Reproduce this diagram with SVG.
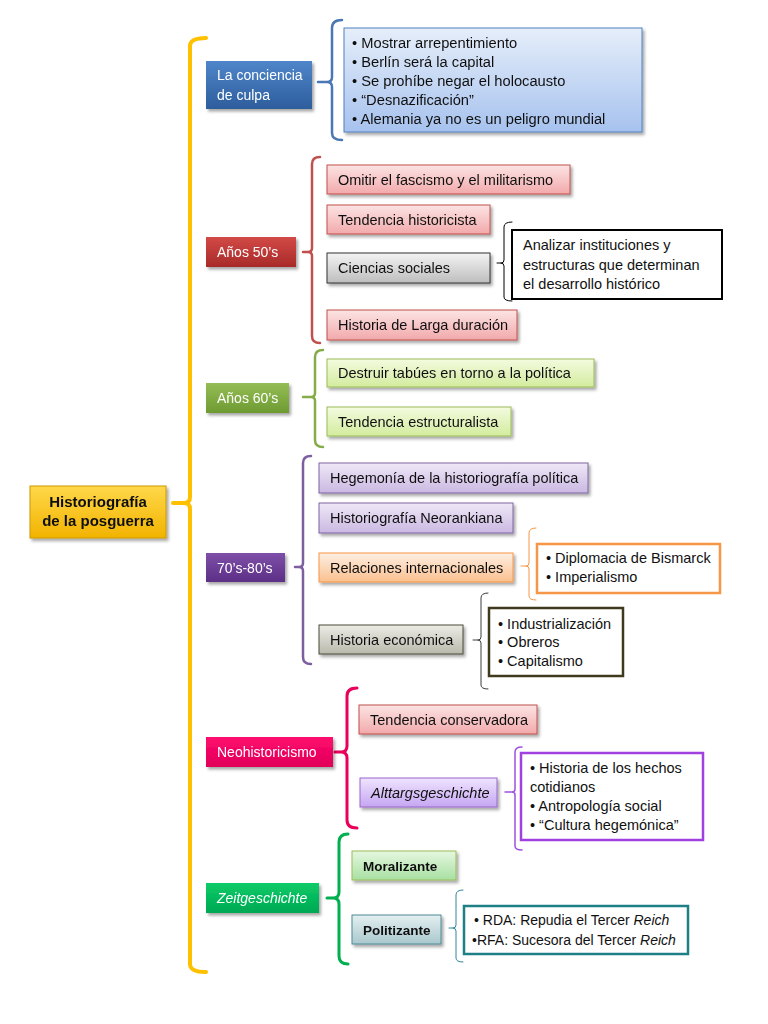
<svg xmlns="http://www.w3.org/2000/svg" width="768" height="1024" viewBox="0 0 768 1024">
<defs>
<filter id="sh" x="-10%" y="-20%" width="130%" height="150%"><feDropShadow dx="2" dy="2.5" stdDeviation="1.6" flood-color="#000" flood-opacity="0.35"/></filter>
<linearGradient id="gRoot" x1="0" y1="0" x2="0" y2="1"><stop offset="0" stop-color="#FFD84A"/><stop offset="1" stop-color="#F2B300"/></linearGradient>
<linearGradient id="gBlue" x1="0" y1="0" x2="0" y2="1"><stop offset="0" stop-color="#4F86CA"/><stop offset="1" stop-color="#2D5D9C"/></linearGradient>
<linearGradient id="gRed" x1="0" y1="0" x2="0" y2="1"><stop offset="0" stop-color="#D24A47"/><stop offset="1" stop-color="#A82A28"/></linearGradient>
<linearGradient id="gGreen" x1="0" y1="0" x2="0" y2="1"><stop offset="0" stop-color="#94BE55"/><stop offset="1" stop-color="#6E9A32"/></linearGradient>
<linearGradient id="gPurple" x1="0" y1="0" x2="0" y2="1"><stop offset="0" stop-color="#7E4FA8"/><stop offset="1" stop-color="#5C2F86"/></linearGradient>
<linearGradient id="gPink" x1="0" y1="0" x2="0" y2="1"><stop offset="0" stop-color="#FF0A6E"/><stop offset="1" stop-color="#E00058"/></linearGradient>
<linearGradient id="gZeit" x1="0" y1="0" x2="0" y2="1"><stop offset="0" stop-color="#0ACB68"/><stop offset="1" stop-color="#00A852"/></linearGradient>
<linearGradient id="lBlue" x1="0" y1="0" x2="0" y2="1"><stop offset="0" stop-color="#E6EEFA"/><stop offset="1" stop-color="#A6C2EE"/></linearGradient>
<linearGradient id="lPink" x1="0" y1="0" x2="0" y2="1"><stop offset="0" stop-color="#FCE4E4"/><stop offset="1" stop-color="#F2A9AB"/></linearGradient>
<linearGradient id="lGray" x1="0" y1="0" x2="0" y2="1"><stop offset="0" stop-color="#F4F4F4"/><stop offset="1" stop-color="#BDBDBD"/></linearGradient>
<linearGradient id="lGreen" x1="0" y1="0" x2="0" y2="1"><stop offset="0" stop-color="#F3FBDF"/><stop offset="1" stop-color="#D3EC9E"/></linearGradient>
<linearGradient id="lPurple" x1="0" y1="0" x2="0" y2="1"><stop offset="0" stop-color="#EFE8F7"/><stop offset="1" stop-color="#CAB8E2"/></linearGradient>
<linearGradient id="lOrange" x1="0" y1="0" x2="0" y2="1"><stop offset="0" stop-color="#FEEFE2"/><stop offset="1" stop-color="#FAC08F"/></linearGradient>
<linearGradient id="lOlive" x1="0" y1="0" x2="0" y2="1"><stop offset="0" stop-color="#ECECE6"/><stop offset="1" stop-color="#B9B9AC"/></linearGradient>
<linearGradient id="lViolet" x1="0" y1="0" x2="0" y2="1"><stop offset="0" stop-color="#F0E4FF"/><stop offset="1" stop-color="#C5A6F2"/></linearGradient>
<linearGradient id="lMint" x1="0" y1="0" x2="0" y2="1"><stop offset="0" stop-color="#E6F7E0"/><stop offset="1" stop-color="#A8E0A2"/></linearGradient>
<linearGradient id="lTeal" x1="0" y1="0" x2="0" y2="1"><stop offset="0" stop-color="#E4EFF1"/><stop offset="1" stop-color="#A9C8CD"/></linearGradient>
</defs>
<style>
text{font-family:"Liberation Sans",Arial,sans-serif;font-size:14.5px;fill:#111}
.w{fill:#fff;font-size:14px}
.b{font-weight:bold}
.i{font-style:italic}
.r{font-size:15px}
.l{font-size:14.7px}
.t{font-size:14px}
.br{fill:none;stroke-linecap:round;stroke-linejoin:round}
.n{filter:url(#sh)}
</style>
<rect width="768" height="1024" fill="#fff"/>

<g id="connectors">
<path class="br" stroke="#FFC000" stroke-width="4" d="M206,38 Q190,38 190,46 L190,497 Q190,503 184,503 L173,503 M184,503 Q190,503 190,509 L190,964 Q190,972 206,972"/>
<path class="br" stroke="#4A78B4" stroke-width="2.5" d="M342,20 Q332,20 332,28 L332,77 Q332,82 327,82 L318,82 M327,82 Q332,82 332,87 L332,133 Q332,140 342,140"/>
<path class="br" stroke="#C0504D" stroke-width="2.5" d="M320,157 Q312,157 312,164 L312,248 Q312,252 308,252 L303,252 M308,252 Q312,252 312,256 L312,336 Q312,343 320,343"/>
<path class="br" stroke="#000" stroke-width="1" d="M512,222 Q504,222 504,227 L504,260 Q504,263 501,263 L497,263 M501,263 Q504,263 504,266 L504,297 Q504,301 512,301"/>
<path class="br" stroke="#86AC4A" stroke-width="2.5" d="M323,350 Q315,350 315,357 L315,393 Q315,397 311,397 L303,397 M311,397 Q315,397 315,401 L315,440 Q315,447 323,447"/>
<path class="br" stroke="#7D5FA0" stroke-width="2.5" d="M311,456 Q303,456 303,463 L303,563 Q303,567 299,567 L295,567 M299,567 Q303,567 303,571 L303,657 Q303,664 311,664"/>
<path class="br" stroke="#F79646" stroke-width="1" d="M536,528 Q529,528 529,533 L529,563 Q529,566 526,566 L521,566 M526,566 Q529,566 529,569 L529,596 Q529,600 536,600"/>
<path class="br" stroke="#3C3C3C" stroke-width="1" d="M488,593 Q481,593 481,598 L481,637 Q481,640 478,640 L473,640 M478,640 Q481,640 481,643 L481,685 Q481,689 488,689"/>
<path class="br" stroke="#E8005A" stroke-width="3" d="M357,688 Q347,688 347,696 L347,746 Q347,752 341,752 L335,752 M341,752 Q347,752 347,758 L347,820 Q347,828 357,828"/>
<path class="br" stroke="#A050E0" stroke-width="1.5" d="M522,747 Q515,747 515,752 L515,789 Q515,792 512,792 L505,792 M512,792 Q515,792 515,795 L515,846 Q515,850 522,850"/>
<path class="br" stroke="#00B050" stroke-width="3" d="M348,834 Q339,834 339,842 L339,892 Q339,898 333,898 L327,898 M333,898 Q339,898 339,904 L339,956 Q339,964 348,964"/>
<path class="br" stroke="#31859C" stroke-width="1" d="M463,890 Q456,890 456,895 L456,925 Q456,928 453,928 L449,928 M453,928 Q456,928 456,931 L456,958 Q456,962 463,962"/>
</g>

<g id="root" class="n"><rect x="30" y="486" width="136" height="52" fill="url(#gRoot)" stroke="#C99A00" stroke-width="1"/>
<text class="b r" x="98" y="507" text-anchor="middle">Historiografía</text><text class="b r" x="98" y="526" text-anchor="middle">de la posguerra</text></g>

<g id="n-culpa" class="n"><rect x="206" y="61" width="106" height="48" fill="url(#gBlue)"/>
<text class="w" x="217" y="80">La conciencia</text><text class="w" x="217" y="100">de culpa</text></g>
<g id="n-culpa-list" class="n"><rect x="344" y="28" width="298" height="104" fill="url(#lBlue)" stroke="#4F81BD" stroke-width="1"/>
<text class="l" x="352" y="48">• Mostrar arrepentimiento</text>
<text class="l" x="352" y="67">• Berlín será la capital</text>
<text class="l" x="352" y="86">• Se prohíbe negar el holocausto</text>
<text class="l" x="352" y="105">• “Desnazificación”</text>
<text class="l" x="352" y="124">• Alemania ya no es un peligro mundial</text></g>

<g id="n-50" class="n"><rect x="206" y="237" width="90" height="30" fill="url(#gRed)"/><text class="w" x="217" y="257">Años 50’s</text></g>
<g id="n-omitir" class="n"><rect x="327" y="165" width="243" height="29" fill="url(#lPink)" stroke="#C0504D" stroke-width="1"/><text x="338" y="184.5">Omitir el fascismo y el militarismo</text></g>
<g id="n-histcista" class="n"><rect x="327" y="205" width="163" height="29" fill="url(#lPink)" stroke="#C0504D" stroke-width="1"/><text x="338" y="224.5">Tendencia historicista</text></g>
<g id="n-ciencias" class="n"><rect x="327" y="253" width="163" height="30" fill="url(#lGray)" stroke="#333" stroke-width="1"/><text x="338" y="273">Ciencias sociales</text></g>
<g id="n-larga" class="n"><rect x="327" y="310" width="190" height="30" fill="url(#lPink)" stroke="#C0504D" stroke-width="1"/><text x="338" y="330">Historia de Larga duración</text></g>
<g id="n-analizar"><rect x="512" y="230" width="210" height="69" fill="#fff" stroke="#000" stroke-width="2"/>
<text x="523" y="250">Analizar instituciones y</text><text x="523" y="270">estructuras que determinan</text><text x="523" y="289">el desarrollo histórico</text></g>

<g id="n-60" class="n"><rect x="206" y="383" width="83" height="30" fill="url(#gGreen)"/><text class="w" x="217" y="403">Años 60’s</text></g>
<g id="n-destruir" class="n"><rect x="327" y="359" width="267" height="28" fill="url(#lGreen)" stroke="#9BBB59" stroke-width="1"/><text x="338" y="378">Destruir tabúes en torno a la política</text></g>
<g id="n-estruct" class="n"><rect x="327" y="407" width="184" height="29" fill="url(#lGreen)" stroke="#9BBB59" stroke-width="1"/><text x="338" y="426.5">Tendencia estructuralista</text></g>

<g id="n-7080" class="n"><rect x="206" y="553" width="79" height="29" fill="url(#gPurple)"/><text class="w" x="217" y="572.5">70’s-80’s</text></g>
<g id="n-hegemonia" class="n"><rect x="319" y="463" width="269" height="30" fill="url(#lPurple)" stroke="#8064A2" stroke-width="1"/><text x="330" y="483">Hegemonía de la historiografía política</text></g>
<g id="n-neorank" class="n"><rect x="319" y="503" width="194" height="30" fill="url(#lPurple)" stroke="#8064A2" stroke-width="1"/><text x="330" y="523">Historiografía Neorankiana</text></g>
<g id="n-relaciones" class="n"><rect x="319" y="553" width="194" height="29" fill="url(#lOrange)" stroke="#F79646" stroke-width="1"/><text x="330" y="572.5">Relaciones internacionales</text></g>
<g id="n-economica" class="n"><rect x="319" y="625" width="144" height="29" fill="url(#lOlive)" stroke="#4A4A3A" stroke-width="1"/><text x="330" y="644.5">Historia económica</text></g>
<g id="n-bismarck"><rect x="537" y="544" width="183" height="49" fill="#fff" stroke="#F79646" stroke-width="2.5"/>
<text x="546" y="563">• Diplomacia de Bismarck</text><text x="546" y="582">• Imperialismo</text></g>
<g id="n-indus"><rect x="489" y="608" width="134" height="68" fill="#fff" stroke="#3F3A1E" stroke-width="2.5"/>
<text x="498" y="629">• Industrialización</text><text x="498" y="647">• Obreros</text><text x="498" y="666">• Capitalismo</text></g>

<g id="n-neohist" class="n"><rect x="206" y="737" width="127" height="30" fill="url(#gPink)"/><text class="w" x="217" y="757">Neohistoricismo</text></g>
<g id="n-conserv" class="n"><rect x="359" y="705" width="178" height="29" fill="url(#lPink)" stroke="#C0504D" stroke-width="1"/><text x="370" y="724.5">Tendencia conservadora</text></g>
<g id="n-alltag" class="n"><rect x="360" y="778" width="137" height="29" fill="url(#lViolet)" stroke="#9966CC" stroke-width="1"/><text class="i" x="371" y="797.5">Alttargsgeschichte</text></g>
<g id="n-hechos"><rect x="521" y="753" width="182" height="87" fill="#fff" stroke="#A040E0" stroke-width="2.5"/>
<text x="530" y="773">•  Historia de los hechos</text><text x="530" y="792">cotidianos</text><text x="530" y="811">• Antropología social</text><text x="530" y="830">• “Cultura hegemónica”</text></g>

<g id="n-zeit" class="n"><rect x="206" y="883" width="113" height="30" fill="url(#gZeit)"/><text class="w i" x="217" y="903">Zeitgeschichte</text></g>
<g id="n-moral" class="n"><rect x="352" y="851" width="104" height="29" fill="url(#lMint)" stroke="#9BBB59" stroke-width="1"/><text class="b" x="363" y="870.5" style="font-size:13.5px">Moralizante</text></g>
<g id="n-polit" class="n"><rect x="352" y="915" width="89" height="29" fill="url(#lTeal)" stroke="#4F8A96" stroke-width="1"/><text class="b" x="363" y="934.5" style="font-size:13.5px">Politizante</text></g>
<g id="n-reich"><rect x="464" y="906" width="224" height="48" fill="#fff" stroke="#1F7F86" stroke-width="2.5"/>
<text class="t" x="474" y="925">• RDA: Repudia el Tercer <tspan class="i">Reich</tspan></text><text class="t" x="472" y="945">•RFA: Sucesora del Tercer <tspan class="i">Reich</tspan></text></g>
</svg>
